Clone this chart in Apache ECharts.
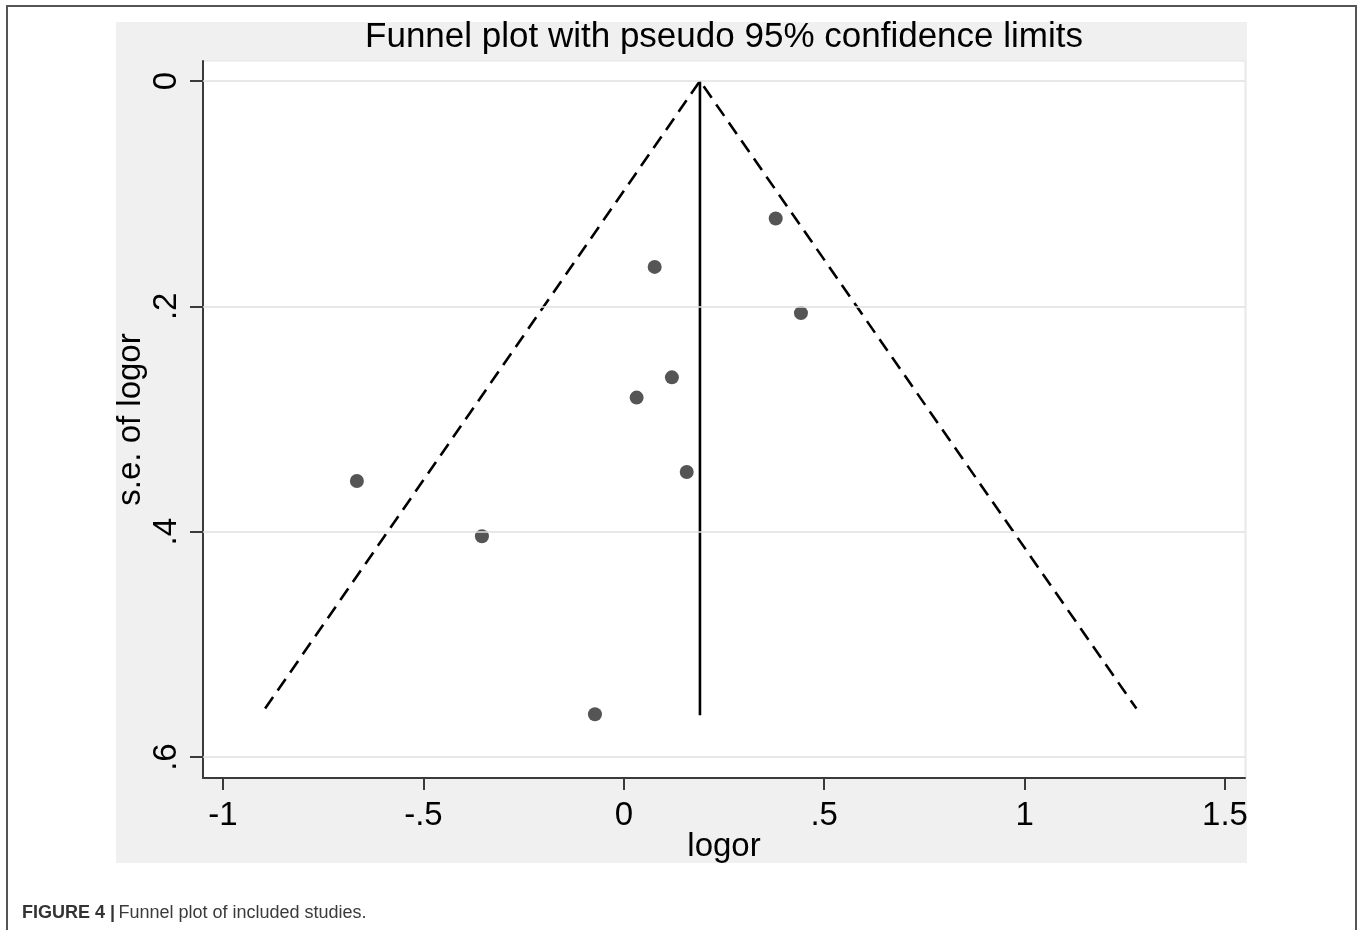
<!DOCTYPE html>
<html>
<head>
<meta charset="utf-8">
<style>
html,body{margin:0;padding:0;background:#fff;}
#chart{width:1360px;height:930px;}
</style>
<script src="https://cdn.jsdelivr.net/npm/echarts@6/dist/echarts.min.js"></script>
</head>
<body>
<div id="chart"></div>
<script>
// ---- data ----
var studyLogOR = [0.379, 0.077, 0.442, 0.120, 0.032, 0.157, -0.666, -0.354, -0.072];
var studySE    = [0.122, 0.165, 0.206, 0.263, 0.281, 0.347, 0.355, 0.404, 0.562];
var pooledLogOR = 0.19;
var funnelLeft  = [-0.895, 0.557];
var funnelRight = [1.279, 0.557];
var verticalEndSE = 0.563;
var xTicks = [-1, -0.5, 0, 0.5, 1, 1.5];
var xTickLabels = ['-1', '-.5', '0', '.5', '1', '1.5'];
var yTicks = [0, 0.2, 0.4, 0.6];
var yTickLabels = ['0', '.2', '.4', '.6'];
var titleText = 'Funnel plot with pseudo 95% confidence limits';
var xName = 'logor';
var yName = 's.e. of logor';

var points = studyLogOR.map(function (x, i) { return [x, studySE[i]]; });

function labelFor(vals, labels) {
  return function (v) {
    for (var i = 0; i < vals.length; i++) {
      if (Math.abs(vals[i] - v) < 1e-9) return labels[i];
    }
    return '';
  };
}

var FONT = '"Liberation Sans", Arial, sans-serif';
var chart = echarts.init(document.getElementById('chart'), null, {renderer: 'canvas'});

chart.setOption({
  animation: false,
  backgroundColor: '#ffffff',
  graphic: [
    {type: 'rect', z: -10, shape: {x: 116, y: 22, width: 1131, height: 841}, style: {fill: '#f0f0f0'}},
    {type: 'polyline', z: 10, shape: {points: [[7, 930], [7, 6], [1356, 6], [1356, 930]]}, style: {stroke: '#555555', lineWidth: 2, fill: null}},
    {type: 'text', z: 10, x: 724, y: 37, style: {text: titleText, font: '35px ' + FONT, fill: '#000', align: 'center', verticalAlign: 'middle'}},
    {type: 'text', z: 10, x: 22, y: 913, style: {
      text: '{b|FIGURE 4 |} {r|Funnel plot of included studies.}',
      verticalAlign: 'middle', align: 'left',
      rich: {
        b: {fontFamily: FONT, fontWeight: 'bold', fontSize: 18, fill: '#333333', color: '#333333'},
        r: {fontFamily: FONT, fontSize: 18, fill: '#3a3a3a', color: '#3a3a3a'}
      }
    }}
  ],
  grid: {
    left: 203, right: 115, top: 61, bottom: 152,
    show: true, backgroundColor: '#ffffff', borderColor: '#e4e4e4', borderWidth: 1
  },
  xAxis: {
    type: 'value', min: -1.05, max: 1.55,
    name: xName, nameLocation: 'middle', nameGap: 52, nameMoveOverlap: false,
    nameTextStyle: {fontFamily: FONT, fontSize: 33, color: '#000'},
    axisLine: {show: true, onZero: false, lineStyle: {color: '#3a3a3a', width: 2}},
    axisTick: {show: true, customValues: xTicks, length: 12, lineStyle: {color: '#3a3a3a', width: 2}},
    axisLabel: {customValues: xTicks, formatter: labelFor(xTicks, xTickLabels), margin: 21,
      fontFamily: FONT, fontSize: 33, color: '#000'},
    splitLine: {show: false}
  },
  yAxis: {
    type: 'value', inverse: true, min: -0.01775, max: 0.6186,
    name: yName, nameLocation: 'middle', nameGap: 56, nameRotate: 90, nameMoveOverlap: false,
    nameTextStyle: {fontFamily: FONT, fontSize: 33, color: '#000'},
    axisLine: {show: true, onZero: false, lineStyle: {color: '#3a3a3a', width: 2}},
    axisTick: {show: true, customValues: yTicks, length: 13, lineStyle: {color: '#3a3a3a', width: 2}},
    axisLabel: {customValues: yTicks, formatter: labelFor(yTicks, yTickLabels), rotate: 90, margin: 20,
      fontFamily: FONT, fontSize: 33, color: '#000'},
    splitLine: {show: false}
  },
  series: [
    {
      type: 'line', name: 'grid', data: [], silent: true,
      markLine: {
        silent: true, symbol: 'none', label: {show: false},
        lineStyle: {color: '#e0e0e0', width: 1.5, type: 'solid'},
        data: yTicks.map(function (v) { return {yAxis: v}; })
      }
    },
    {
      type: 'line', name: 'ci', data: [funnelLeft, [pooledLogOR, 0], funnelRight],
      showSymbol: false, symbol: 'none', z: 3,
      lineStyle: {color: '#000', width: 2.6, type: [14, 8]}
    },
    {
      type: 'line', name: 'pooled', data: [[pooledLogOR, 0], [pooledLogOR, verticalEndSE]],
      showSymbol: false, symbol: 'none', z: 3,
      lineStyle: {color: '#000', width: 2.6}
    },
    {
      type: 'scatter', name: 'studies', data: points, symbolSize: 14, z: 4,
      itemStyle: {color: '#555555', opacity: 1}
    }
  ]
});
</script>
</body>
</html>
